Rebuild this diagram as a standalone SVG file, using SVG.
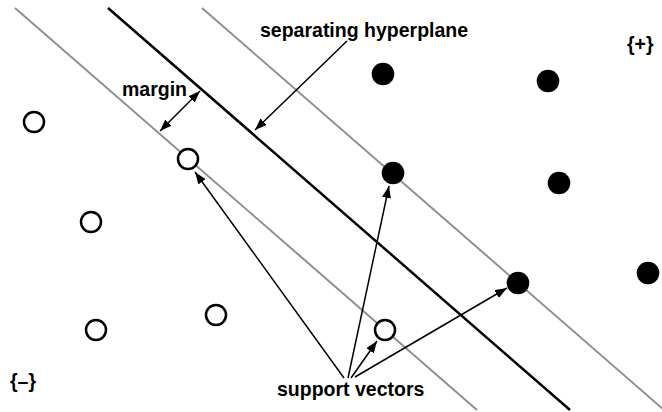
<svg xmlns="http://www.w3.org/2000/svg" width="662" height="412" viewBox="0 0 662 412">
<style>
.gray{stroke:#8f8f8f;stroke-width:2;fill:none}
.hyper{stroke:#000;stroke-width:2.5;fill:none}
.arr{stroke:#000;stroke-width:1.5;fill:none;marker-end:url(#ah)}
.open{fill:#fff;stroke:#000;stroke-width:2.5}
.fill{fill:#000;stroke:none}
text{font-family:"Liberation Sans",Arial,sans-serif;font-weight:bold;font-size:19.5px;fill:#000}
</style>
<defs>
<marker id="ah" viewBox="0 0 12 9" refX="12" refY="4.5" markerWidth="12" markerHeight="9" markerUnits="userSpaceOnUse" orient="auto-start-reverse">
<path d="M0,0 L12,4.5 L0,9 z" fill="#000"/>
</marker>
</defs>
<rect width="662" height="412" fill="#fff"/>
<g id="lines">
<line class="gray" x1="15" y1="8" x2="477" y2="410"/>
<line class="hyper" x1="108" y1="8" x2="570" y2="410"/>
<line class="gray" x1="202" y1="8" x2="664" y2="410"/>
</g>
<g id="neg">
<circle class="open" cx="34" cy="122" r="10"/>
<circle class="open" cx="188" cy="159" r="10"/>
<circle class="open" cx="91" cy="222" r="10"/>
<circle class="open" cx="96" cy="330" r="10"/>
<circle class="open" cx="216" cy="315" r="10"/>
<circle class="open" cx="385" cy="330" r="10"/>
</g>
<g id="pos">
<circle class="fill" cx="383" cy="74" r="11.3"/>
<circle class="fill" cx="548" cy="81" r="11.3"/>
<circle class="fill" cx="393" cy="173" r="11.3"/>
<circle class="fill" cx="559" cy="183" r="11.3"/>
<circle class="fill" cx="518" cy="283" r="11.3"/>
<circle class="fill" cx="648" cy="273" r="11.3"/>
</g>
<g id="connectors">
<line class="arr" x1="347" y1="41" x2="255" y2="130"/>
<line class="arr" x1="160" y1="131" x2="200" y2="91" style="marker-start:url(#ah)"/>
<line class="arr" x1="344" y1="378" x2="195" y2="172"/>
<line class="arr" x1="348" y1="378" x2="389" y2="186"/>
<line class="arr" x1="351" y1="378" x2="377" y2="341"/>
<line class="arr" x1="355" y1="377" x2="507" y2="288"/>
</g>
<g id="labels">
<text x="260" y="37">separating hyperplane</text>
<text x="122" y="96">margin</text>
<text x="277" y="396">support vectors</text>
<text x="10" y="388">{–}</text>
<text x="627" y="51">{+}</text>
</g>
</svg>
